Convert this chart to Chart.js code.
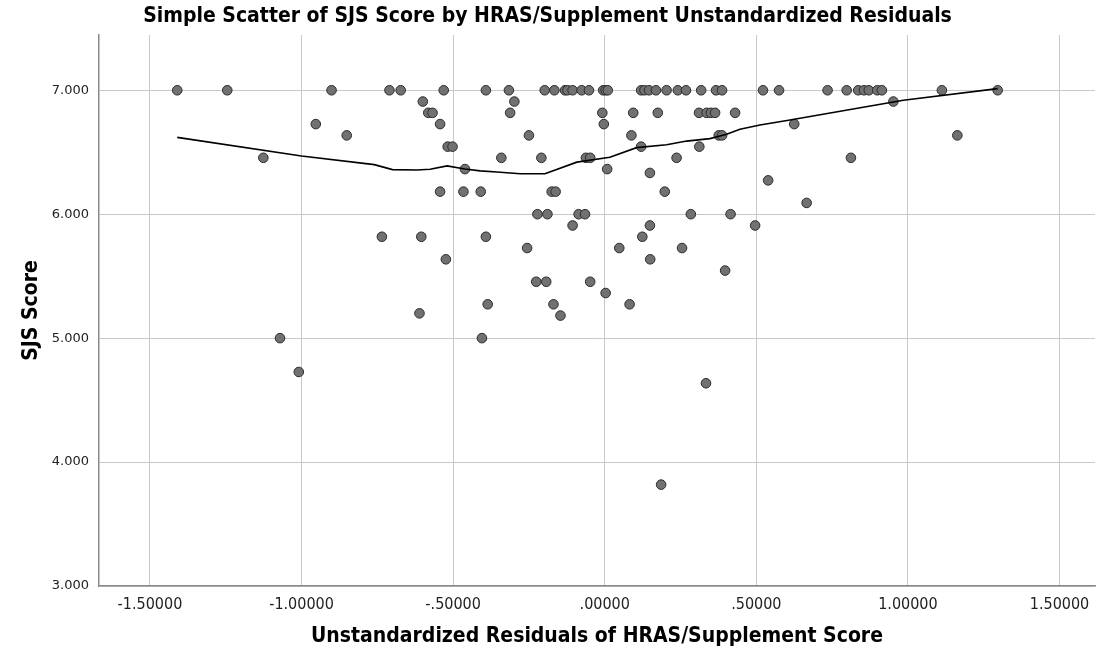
<!DOCTYPE html>
<html>
<head>
<meta charset="utf-8">
<title>Simple Scatter of SJS Score</title>
<script src="https://cdn.jsdelivr.net/npm/chart.js@4.4.1/dist/chart.umd.min.js"></script>
<style>
  html, body { margin: 0; padding: 0; background: #fff; }
  #wrap { width: 1101px; height: 658px; }
</style>
</head>
<body>
<div id="wrap"><canvas id="chart" width="1101" height="658"></canvas></div>
<script>
// unstandardized residuals (x) and SJS score (y), one entry per case
const residuals = [
  -1.410, -1.245, -0.901, -0.710, -0.673, -0.531, -0.392, -0.316, -0.198, -0.166,
  -0.131, -0.123, -0.106, -0.076, -0.052, -0.005, 0.003, 0.010, 0.120, 0.131,
  0.146, 0.169, 0.204, 0.241, 0.268, 0.318, 0.367, 0.387, 0.522, 0.575,
  0.735, 0.798, 0.836, 0.855, 0.871, 0.899, 0.914, 1.112, 1.296,
  -0.600, -0.298, 0.952,
  -0.582, -0.568, -0.312, -0.008, 0.094, 0.175, 0.311, 0.336, 0.350, 0.364, 0.430,
  -0.953, -0.543, -0.003, 0.625,
  -0.851, -0.250, 0.088, 0.376, 0.387, 1.163,
  -0.518, -0.502, 0.120, 0.312,
  -1.126, -0.341, -0.209, -0.062, -0.048, 0.237, 0.812,
  -0.461, 0.008,
  0.149,
  0.539,
  -0.543, -0.466, -0.409, -0.175, -0.162, 0.198,
  0.666,
  -0.222, -0.189, -0.086, -0.065, 0.284, 0.415,
  -0.106, 0.149, 0.496,
  -0.735, -0.605, -0.392, 0.124,
  -0.256, 0.048, 0.255,
  -0.524, 0.150,
  0.397,
  -0.226, -0.193, -0.048,
  0.003,
  -0.386, -0.169, 0.082,
  -0.611,
  -0.146,
  -1.071, -0.405,
  -1.009,
  0.334,
  0.186
];
const sjsScores = [
  7, 7, 7, 7, 7, 7, 7, 7, 7, 7,
  7, 7, 7, 7, 7, 7, 7, 7, 7, 7,
  7, 7, 7, 7, 7, 7, 7, 7, 7, 7,
  7, 7, 7, 7, 7, 7, 7, 7, 7,
  6.909, 6.909, 6.909,
  6.818, 6.818, 6.818, 6.818, 6.818, 6.818, 6.818, 6.818, 6.818, 6.818, 6.818,
  6.727, 6.727, 6.727, 6.727,
  6.636, 6.636, 6.636, 6.636, 6.636, 6.636,
  6.545, 6.545, 6.545, 6.545,
  6.455, 6.455, 6.455, 6.455, 6.455, 6.455, 6.455,
  6.364, 6.364,
  6.333,
  6.273,
  6.182, 6.182, 6.182, 6.182, 6.182, 6.182,
  6.091,
  6.000, 6.000, 6.000, 6.000, 6.000, 6.000,
  5.909, 5.909, 5.909,
  5.818, 5.818, 5.818, 5.818,
  5.727, 5.727, 5.727,
  5.636, 5.636,
  5.545,
  5.455, 5.455, 5.455,
  5.364,
  5.273, 5.273, 5.273,
  5.200,
  5.182,
  5.000, 5.000,
  4.727,
  4.636,
  3.818
];

// loess fit line
const loessX = [-1.41, -1.00, -0.76, -0.70, -0.62, -0.576, -0.52, -0.461, -0.411, -0.356, -0.279, -0.197,
  -0.092, 0.017, 0.105, 0.204, 0.27, 0.347, 0.402, 0.446, 0.512, 0.611, 0.985, 1.296];
const loessY = [6.62, 6.47, 6.40, 6.36, 6.357, 6.363, 6.39, 6.365, 6.35, 6.34, 6.327, 6.327,
  6.42, 6.46, 6.537, 6.56, 6.59, 6.61, 6.645, 6.685, 6.72, 6.76, 6.92, 7.013];

const xTicks = [-1.5, -1.0, -0.5, 0, 0.5, 1.0, 1.5];
const yTicks = [3, 4, 5, 6, 7];

// SPSS style: drop the leading zero
function spss(v, digits) {
  let s = Math.abs(v).toFixed(digits);
  if (s.startsWith('0')) s = s.slice(1);
  return (v < 0 ? '-' : '') + s;
}

const points = residuals.map((x, i) => ({ x: x, y: sjsScores[i] }));
const fit = loessX.map((x, i) => ({ x: x, y: loessY[i] }));

const titleFont = { family: '"DejaVu Sans Condensed", "DejaVu Sans"', size: 21, weight: 'bold' };

new Chart(document.getElementById('chart'), {
  type: 'scatter',
  data: {
    datasets: [
      {
        type: 'line',
        data: fit,
        borderColor: '#000',
        borderWidth: 1.6,
        pointRadius: 0,
        tension: 0,
        fill: false
      },
      {
        data: points,
        backgroundColor: '#717171',
        borderColor: '#2b2b2b',
        borderWidth: 1,
        pointRadius: 4.8
      }
    ]
  },
  options: {
    responsive: false,
    animation: false,
    layout: { padding: { left: 0, right: 6, top: 0, bottom: 0 } },
    plugins: {
      legend: { display: false },
      tooltip: { enabled: false },
      title: {
        display: true,
        text: 'Simple Scatter of SJS Score by HRAS/Supplement Unstandardized Residuals',
        color: '#000',
        font: titleFont,
        padding: { top: 4, bottom: 5.8 }
      }
    },
    scales: {
      x: {
        type: 'linear',
        min: -1.668,
        max: 1.617,
        afterBuildTicks: s => { s.ticks = xTicks.map(v => ({ value: v })); },
        afterFit: s => { s.height = 72; },
        grid: { color: '#c8c8c8', lineWidth: 1, drawTicks: false },
        border: { color: '#8a8a8a', width: 1.5 },
        ticks: {
          padding: 9,
          color: '#222',
          font: { family: '"DejaVu Sans Condensed", "DejaVu Sans"', size: 16 },
          callback: v => spss(v, 5)
        },
        title: {
          display: true,
          text: 'Unstandardized Residuals of HRAS/Supplement Score',
          color: '#000',
          font: titleFont,
          padding: { top: 0, bottom: 8.4 }
        }
      },
      y: {
        type: 'linear',
        min: 3,
        max: 7.446,
        afterBuildTicks: s => { s.ticks = yTicks.map(v => ({ value: v })); },
        afterFit: s => { s.width = 99; },
        grid: { color: '#c8c8c8', lineWidth: 1, drawTicks: false },
        border: { color: '#8a8a8a', width: 1.5 },
        ticks: {
          padding: 10,
          color: '#222',
          font: { family: '"DejaVu Sans"', size: 13 },
          callback: v => spss(v, 3)
        },
        title: {
          display: true,
          text: 'SJS Score',
          color: '#000',
          font: titleFont,
          padding: { top: 19.4, bottom: 0 }
        }
      }
    }
  }
});
</script>
</body>
</html>
